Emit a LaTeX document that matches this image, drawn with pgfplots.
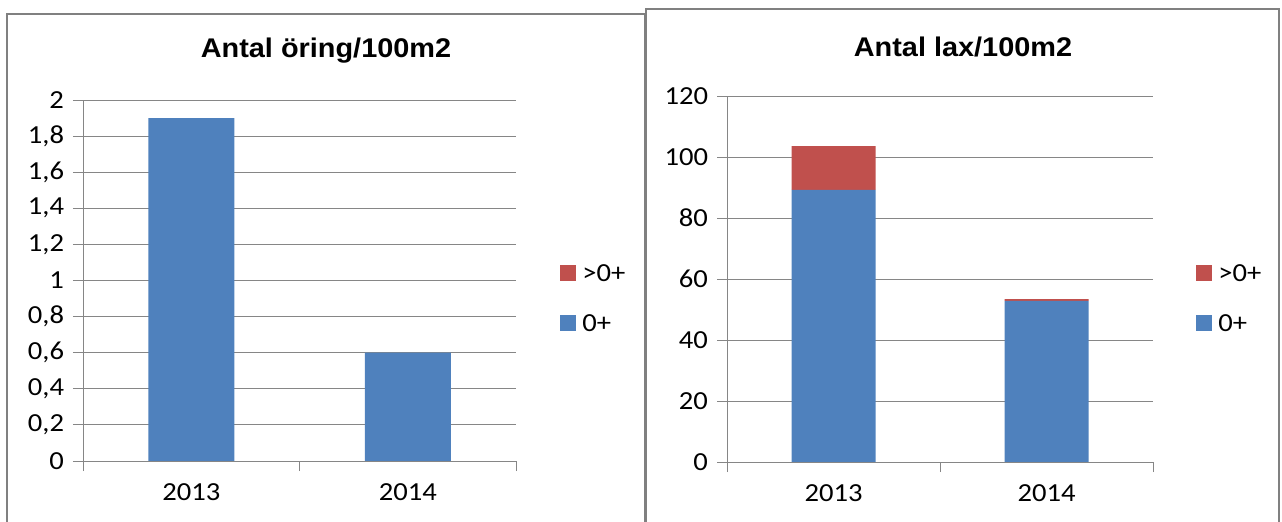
\documentclass[border=0pt]{standalone}
\usepackage{fontspec}
\setmainfont{Carlito}
\newfontfamily\titlefont{Liberation Sans}
\usepackage{pgfplots}
\pgfplotsset{compat=1.18}
\definecolor{barblue}{RGB}{79,129,189}
\definecolor{barred}{RGB}{192,80,77}
\definecolor{gridgray}{RGB}{134,134,134}
\definecolor{boxgray}{RGB}{128,128,128}
\newcommand{\lblfont}{\fontsize{26bp}{30bp}\selectfont}
\pgfplotsset{
  sq legend/.style={legend image code/.code={\fill[##1] (0bp,-3bp) rectangle (16bp,13bp);}},
  mystyle/.style={
    scale only axis,
    ybar stacked,
    axis x line=bottom,
    axis y line=left,
    axis line style={-, draw=gridgray, line width=0.8bp},
    ymajorgrids,
    grid style={draw=gridgray, line width=0.8bp},
    xmin=-0.5, xmax=1.5,
    xtick={0,1},
    xticklabels={2013,2014},
    minor xtick={-0.5,0.5,1.5},
    major x tick style={draw=none},
    minor x tick style={draw=gridgray, line width=0.8bp},
    major y tick style={draw=gridgray, line width=0.8bp},
    tick align=outside,
    major tick length=10bp,
    minor tick length=10bp,
    tick pos=left,
    ymin=0,
    /pgf/number format/assume math mode=true,
    /pgf/number format/use comma,
    /pgf/number format/1000 sep={},
    ticklabel style={font=\lblfont, xscale=1.1},
    yticklabel style={inner sep=0bp, xshift=-8bp},
    xticklabel style={inner sep=0bp, yshift=-12bp},
    legend style={draw=none, fill=none, inner sep=0pt, row sep=27bp, column sep=5bp,
      font=\lblfont, anchor=west,
      nodes={inner sep=1bp, text height=13bp, text depth=5bp, xscale=1.1}},
    legend cell align=left,
    reverse legend,
  }
}
\begin{document}
\begin{tikzpicture}
\path[use as bounding box] (0,0) rectangle (1282bp,522bp);
% boxes
\draw[boxgray, line width=2bp] (7bp,-2bp) -- (7bp,508bp) -- (645bp,508bp) -- (645bp,-2bp);
\draw[boxgray, line width=2.2bp] (646bp,-2bp) -- (646bp,513bp) -- (1279bp,513bp) -- (1279bp,-2bp);
% titles
\node[font=\titlefont\bfseries\fontsize{27bp}{30bp}\selectfont, xscale=1.07] at (326bp,471bp) {Antal öring/100m2};
\node[font=\titlefont\bfseries\fontsize{27bp}{30bp}\selectfont, xscale=1.07] at (963bp,475bp) {Antal lax/100m2};

\begin{axis}[mystyle,
  at={(83bp,61bp)}, anchor=south west,
  width=433bp, height=361bp,
  ymax=2, ytick={0,0.2,...,2.01},
  yticklabels={0,{0,2},{0,4},{0,6},{0,8},1,{1,2},{1,4},{1,6},{1,8},2},
  bar width=86bp,
  legend style={at={(1.1016,0.442)}},
]
\addplot+[fill=barblue, draw=none, sq legend] coordinates {(0,1.9) (1,0.6)};
\addplot+[fill=barred, draw=none, sq legend] coordinates {(0,0) (1,0)};
\legend{0+,>0+}
\end{axis}

\begin{axis}[mystyle,
  at={(727bp,60bp)}, anchor=south west,
  width=426bp, height=366bp,
  ymax=120, ytick={0,20,...,120},
  bar width=84bp,
  legend style={at={(1.101,0.439)}},
]
\addplot+[fill=barblue, draw=none, sq legend] coordinates {(0,89.2) (1,52.8)};
\addplot+[fill=barred, draw=none, sq legend] coordinates {(0,14.4) (1,0.6)};
\legend{0+,>0+}
\end{axis}
\end{tikzpicture}
\end{document}
